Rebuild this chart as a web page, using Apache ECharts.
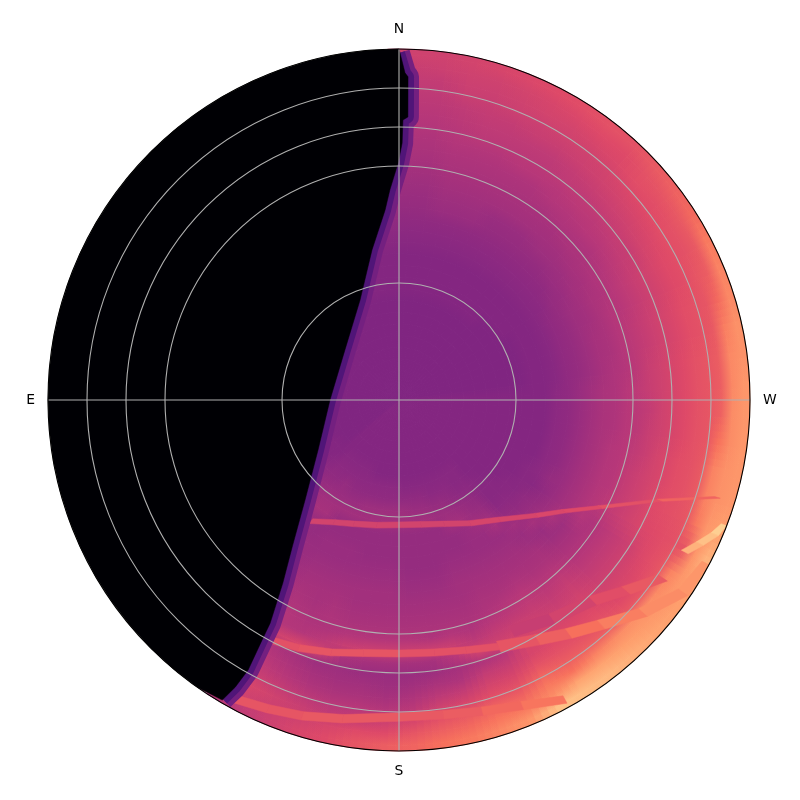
<!DOCTYPE html>
<html>
<head>
<meta charset="utf-8">
<style>html,body{margin:0;background:#fff}#chart{width:800px;height:800px}</style>
<script src="https://cdn.jsdelivr.net/npm/echarts@6/dist/echarts.min.js"></script>
</head>
<body>
<div id="chart"></div>
<script>
// sky brightness, scale 0-100, one row per 5 deg of azimuth, one value per 3 deg of zenith
const az000 = [37,37,37,37,37,37,37,37,37,38,38,38,38,39,40,41,42,43,44,45,46,47,48,49,50,51,52,53,54,56];
const az005 = [37,37,37,37,37,37,37,37,37,38,38,38,38,39,40,41,42,43,44,45,46,47,48,49,50,51,52,53,55,56];
const az010 = [37,37,37,37,37,37,37,37,37,38,38,38,38,39,40,41,43,44,45,46,47,48,49,50,51,52,54,55,56,57];
const az015 = [37,37,37,37,37,37,37,37,37,38,38,38,38,39,40,41,43,44,45,46,47,48,49,51,52,53,54,55,56,58];
const az020 = [37,37,37,37,37,37,37,37,37,38,38,38,38,39,40,41,43,44,45,46,47,48,49,51,52,53,55,56,57,59];
const az025 = [37,37,37,37,37,37,37,37,37,38,38,38,38,39,40,41,42,43,45,46,47,48,50,51,52,54,55,57,58,60];
const az030 = [37,37,37,37,37,37,37,37,37,38,38,38,38,39,40,41,42,43,45,46,47,48,50,51,52,54,56,57,59,61];
const az035 = [37,37,37,37,37,37,37,37,37,38,38,38,38,39,40,41,42,43,45,46,47,49,50,52,53,55,56,58,60,62];
const az040 = [37,37,37,37,37,37,37,37,37,38,38,38,38,39,40,41,42,44,45,46,48,49,51,52,54,56,57,59,60,62];
const az045 = [37,37,37,37,37,37,37,37,37,37,38,38,38,39,40,41,42,44,45,47,48,50,51,53,55,57,59,61,62,64];
const az050 = [37,37,37,37,37,37,37,37,37,37,38,38,38,39,40,41,43,44,46,47,48,50,52,54,56,58,60,61,63,66];
const az055 = [37,37,37,37,37,37,37,37,37,37,38,38,38,39,40,42,43,45,46,48,49,51,53,54,57,59,61,62,64,68];
const az060 = [37,37,37,37,37,37,37,37,37,37,37,38,38,39,41,42,44,45,47,48,50,52,54,56,58,60,61,62,64,72];
const az065 = [37,37,37,37,37,37,37,37,37,37,37,38,38,39,41,42,44,45,47,49,50,52,54,56,58,60,61,63,65,74];
const az070 = [37,37,37,37,37,37,37,37,37,37,37,38,38,39,41,42,44,46,47,49,51,53,55,57,59,61,62,63,68,75];
const az075 = [37,37,37,37,37,37,37,37,37,37,37,38,38,39,41,42,44,46,47,49,51,53,55,57,59,61,62,64,73,77];
const az080 = [37,37,37,37,37,37,37,37,37,37,37,38,38,39,41,42,44,46,48,49,51,54,56,58,60,62,63,65,75,77];
const az085 = [38,38,38,38,38,38,38,38,38,38,38,38,38,40,41,43,45,47,48,50,52,54,56,58,60,62,63,65,75,78];
const az090 = [38,38,38,38,38,38,38,38,38,38,38,38,38,40,41,43,45,47,48,50,51,53,56,58,60,62,63,66,76,78];
const az095 = [38,38,38,38,38,38,38,38,38,38,38,38,38,40,41,43,45,47,48,50,51,54,56,58,60,62,63,70,76,78];
const az100 = [38,38,38,38,38,38,38,38,38,38,38,38,38,40,41,43,45,47,49,50,52,54,57,59,61,62,64,74,77,78];
const az105 = [38,38,38,38,38,38,38,38,38,38,38,38,38,40,41,43,45,47,49,50,53,55,57,59,61,62,64,74,77,78];
const az110 = [38,38,38,38,38,38,38,38,38,38,38,38,38,40,41,43,45,47,49,50,53,55,57,60,61,62,63,72,78,80];
const az115 = [38,38,38,38,38,38,38,38,38,38,38,38,39,40,42,43,45,47,49,51,53,55,57,59,60,61,62,63,78,84];
const az120 = [38,38,38,38,38,38,38,38,38,38,38,38,39,39,41,43,45,47,49,48,50,52,54,56,59,61,63,74,78,80];
const az125 = [38,38,38,38,38,38,38,38,38,38,38,39,39,41,42,44,47,44,46,48,50,52,54,56,58,60,63,76,78,80];
const az130 = [38,38,38,38,38,38,38,38,38,38,39,39,40,41,43,46,43,44,46,48,50,52,54,56,58,60,63,77,79,81];
const az135 = [38,38,38,38,38,38,38,38,38,39,39,39,40,42,45,43,44,46,47,49,52,54,56,58,60,62,65,76,80,83];
const az140 = [38,38,38,38,38,38,38,39,39,40,41,42,44,46,43,44,45,46,47,49,51,53,55,58,60,62,65,74,81,85];
const az145 = [38,38,38,38,38,38,38,39,39,40,42,43,45,43,43,44,45,46,48,50,52,54,56,58,60,62,65,70,81,86];
const az150 = [38,38,38,38,38,38,38,39,40,41,43,45,43,43,43,44,45,46,47,49,51,54,57,58,58,62,67,72,76,87];
const az155 = [38,38,38,38,38,38,38,39,40,42,44,45,42,42,43,44,45,46,47,48,50,53,56,50,54,58,62,67,72,78];
const az160 = [38,38,38,38,38,38,38,39,40,42,44,42,42,42,43,44,45,45,46,47,48,51,57,48,53,57,61,67,71,75];
const az165 = [38,38,38,38,38,38,38,39,41,43,45,42,42,42,42,43,44,45,46,47,49,54,50,46,48,53,58,64,68,72];
const az170 = [38,38,38,38,38,38,38,39,41,43,45,42,42,42,42,43,44,45,46,47,48,55,46,44,47,51,56,62,66,70];
const az175 = [38,38,38,38,38,38,38,39,41,44,45,42,42,42,42,43,44,45,46,47,49,55,46,43,45,48,51,58,63,67];
const az180 = [38,38,38,38,38,38,38,40,41,44,45,42,42,42,43,44,45,45,46,47,49,55,46,43,44,46,49,55,60,65];
const az185 = [38,38,38,38,38,38,38,40,41,44,45,42,42,42,43,44,45,45,46,47,49,55,46,43,45,47,50,53,60,63];
const az190 = [38,38,38,38,38,38,38,40,41,44,45,42,42,42,43,44,45,45,46,47,49,54,47,44,45,47,50,52,58,60];
const az195 = [38,38,38,38,38,38,38,40,41,44,45,42,42,43,43,44,45,46,47,48,48,51,56,44,46,48,51,54,56,58];
const az200 = [38,38,38,38,38,38,39,40,41,43,45,42,42,43,43,44,45,46,46,47,48,49,58,46,48,50,53,56,55,55];
const az205 = [38,38,38,38,38,38,39,40,41,43,45,42,42,43,43,44,45,46,47,48,49,49,56,48,50,52,55,58,56,52];
const az210 = [38,38,38,38,38,38,39,40,42,43,45,46,42,42,43,43,44,45,46,47,48,49,50,50,50,50,52,52,50,50];
const az215 = [38,38,38,38,38,38,39,40,41,43,45,46,43,42,42,43,43,44,44,45];
const az220 = [38,38,38,38,38,38,39,40,41,42,44,44,42,42,42];
const az225 = [38,38,38,38,38,38,38,39,40,41,43,43,43];
const az230 = [37,37,37,37,37,37,38,38,39,40,41,42];
const az235 = [37,37,37,37,37,37,38,38,39,40,41];
const az240 = [37,37,37,37,37,37,37,38,38,39];
const az245 = [37,37,37,37,37,37,37,37,38];
const eastCore = [37,37,37,37,37,37,37,37];
const az330 = [37,37,37,37,37,37,37,37,37,37];
const az335 = [37,37,37,37,37,37,37,37,37,37,37];
const az340 = [37,37,37,37,37,37,37,37,37,38,38,38,38];
const az345 = [37,37,37,37,37,37,37,37,37,38,38,38,38,39,39];
const az350 = [37,37,37,37,37,37,37,37,37,38,38,38,38,39,40,41,42];
const az355 = [37,37,37,37,37,37,37,37,37,38,38,38,38,39,40,41,42,43,44,45,46,47];

const azimuthRows = [
  az000,az005,az010,az015,az020,az025,az030,az035,az040,az045,az050,az055,
  az060,az065,az070,az075,az080,az085,az090,az095,az100,az105,az110,az115,
  az120,az125,az130,az135,az140,az145,az150,az155,az160,az165,az170,az175,
  az180,az185,az190,az195,az200,az205,az210,az215,az220,az225,az230,az235,
  az240,az245,eastCore,eastCore,eastCore,eastCore,eastCore,eastCore,eastCore,eastCore,eastCore,eastCore,
  eastCore,eastCore,eastCore,eastCore,eastCore,eastCore,az330,az335,az340,az345,az350,az355
];

// thin bright bands
const bandOneAz = [216,208,200,190,180,170,160,150,140,130,124,118,111,107];
const bandOneZen = [38.4,35.5,33.8,32.6,32,32.4,33.8,36.5,40,46,51,58.5,71.7,85.4];
const bandOneVal = [57,57,57,57,57,57,57,58,58,59,60,62,67,80];
const bandTwoAz = [209,202,195,188,180,172,165,158];
const bandTwoZen = [70,68.6,67,65.5,65,65.4,66.4,68.2];
const bandTwoVal = [62,63,63,63,62,62,62,63];
const bandTwoEastAz = [158,150,144,138,131,124,118];
const bandTwoEastZen = [68.2,71,74,77.5,83,88,89.5];
const bandTwoEastVal = [63,66,70,73,76,78,78];
const faintBandAz = [154,145,136,130,124];
const faintBandZen = [66,68.5,71.5,76,81.5];
const faintBandVal = [54,57,61,64,67];
const bandThreeAz = [209,203,197,190,180,172,165,158,151];
const bandThreeZen = [87.5,86,84.7,83,81.3,81.5,82.6,84.5,87.8];
const bandThreeVal = [63,63,64,64,64,65,68,71,74];
const wedgeAz = [118,115.5,113,111];
const wedgeZen = [83,85.5,88,89.5];
const wedgeVal = [84,87,90,90];

// edge of the dark side
const terminatorAz = [0,1.05,1.6,1.8,0.8,0.7,359.8,359,357.5,355.8,349.8,338.7,312.8,270,238.3,223.2,216,212.4,210,209.7,209.2,209.7,210.5];
const terminatorZen = [90,83.9,82.9,72.6,71.8,65.9,60.8,58.2,53.9,48.8,39.1,27.5,18.9,17.7,24.4,35.2,46.6,55.6,66.1,70.9,79.3,84.8,89.3];

const ringZen = [30,60,70,80];
const spokeAz = [0,90,180,270];
const compassLabels = {0:'N',90:'W',180:'S',270:'E'};
const magma = ['#000004','#140e36','#3b0f70','#641a80','#8c2981','#b73779','#de4968','#f7705c','#fe9f6d','#fecf92','#fcfdbf'];

function magmaColor(v) {
  return echarts.color.lerp(v / 100, magma);
}

// one record per cell, each cell runs from its own value to the next one out
function cellData() {
  let data = [];
  azimuthRows.forEach((row, r) => {
    data.push([-1.5, r * 5, row[0], row[0]]);
    row.forEach((val, c) => {
      const next = c + 1 < row.length ? row[c + 1] : val;
      data.push([c * 3 + 1.5, r * 5, val, next]);
    });
  });
  return data;
}

function ribbonData(az, zen, val, halfWidth) {
  let data = [];
  for (let i = 0; i < az.length - 1; i++) {
    data.push([az[i], zen[i], val[i], az[i + 1], zen[i + 1], halfWidth]);
  }
  return data;
}

function cellRenderer(shift, opacity) {
  return function(params, api) {
    const cx = params.coordSys.cx, cy = params.coordSys.cy;
    const a = api.coord([Math.max(api.value(0), 0), api.value(1) + shift]);
    const b = api.coord([Math.min(api.value(0) + 3, 90), api.value(1) + 5 + shift]);
    const fill = {
      type: 'radial', x: cx, y: cy, r: b[2], global: true,
      colorStops: [
        {offset: a[2] / b[2], color: magmaColor(api.value(2))},
        {offset: 1, color: magmaColor(api.value(3))}
      ]
    };
    let style = {fill, opacity};
    if (opacity === 1) {
      style.stroke = fill;
      style.lineWidth = 0.8;
    }
    return {
      type: 'sector',
      shape: {cx, cy, r0: a[2], r: b[2], startAngle: -a[3], endAngle: -b[3], clockwise: true},
      style
    };
  };
}

function renderRibbon(params, api) {
  const w = api.value(5);
  const az0 = api.value(0), zen0 = api.value(1), az1 = api.value(3), zen1 = api.value(4);
  const pts = [
    api.coord([Math.min(zen0 + w, 90), az0]), api.coord([Math.min(zen1 + w, 90), az1]),
    api.coord([zen1 - w, az1]), api.coord([zen0 - w, az0])
  ].map(p => [p[0], p[1]]);
  const color = magmaColor(api.value(2));
  return {type: 'polygon', shape: {points: pts}, style: {fill: color, stroke: color, lineWidth: 0.5}};
}

function terminatorPoints(api, maxZen) {
  return terminatorAz.map((az, i) => {
    const p = api.coord([Math.min(terminatorZen[i], maxZen), az]);
    return [p[0], p[1]];
  });
}

function renderStrip(params, api) {
  return {
    type: 'polyline',
    shape: {points: terminatorPoints(api, 89)},
    style: {fill: null, stroke: magmaColor(api.value(0)), lineWidth: api.value(1), lineJoin: 'round'}
  };
}

function renderDarkSide(params, api) {
  let pts = terminatorPoints(api, 90);
  for (let az = 215; az <= 360; az += 5) {
    const p = api.coord([90, az]);
    pts.push([p[0], p[1]]);
  }
  return {type: 'polygon', shape: {points: pts}, style: {fill: '#000004', stroke: '#000004', lineWidth: 0.5}};
}

function renderRing(params, api) {
  const p = api.coord([api.value(0), 0]);
  return {
    type: 'circle',
    shape: {cx: params.coordSys.cx, cy: params.coordSys.cy, r: p[2]},
    style: {fill: null, stroke: api.value(1) ? '#000000' : '#b0b0b0', lineWidth: 1.1}
  };
}

function renderSpoke(params, api) {
  const p = api.coord([90, api.value(0)]);
  return {
    type: 'line',
    shape: {x1: params.coordSys.cx, y1: params.coordSys.cy, x2: p[0], y2: p[1]},
    style: {stroke: '#b0b0b0', lineWidth: 1.1}
  };
}

function customSeries(renderItem, data) {
  return {type: 'custom', coordinateSystem: 'polar', renderItem, data, silent: true, animation: false, progressive: 0};
}

const cells = cellData();
const chart = echarts.init(document.getElementById('chart'), null, {renderer: 'canvas'});
chart.setOption({
  animation: false,
  polar: {center: [399, 400], radius: 351},
  radiusAxis: {type: 'value', min: 0, max: 90, axisLine: {show: false}, axisTick: {show: false}, axisLabel: {show: false}, splitLine: {show: false}},
  angleAxis: {
    type: 'value', min: 0, max: 360, interval: 90, startAngle: 90, clockwise: true,
    axisLine: {show: false}, axisTick: {show: false}, splitLine: {show: false},
    axisLabel: {
      margin: 13, color: '#000', fontFamily: 'DejaVu Sans', fontSize: 13.9,
      formatter: v => compassLabels[v] || ''
    }
  },
  series: [
    // same cells four times at small azimuth shifts, so the 5 deg rows blend into each other
    customSeries(cellRenderer(-1.875, 1), cells),
    customSeries(cellRenderer(-0.625, 1 / 2), cells),
    customSeries(cellRenderer(0.625, 1 / 3), cells),
    customSeries(cellRenderer(1.875, 1 / 4), cells),
    customSeries(renderRibbon, ribbonData(faintBandAz, faintBandZen, faintBandVal, 1.5)),
    customSeries(renderRibbon, ribbonData(bandOneAz, bandOneZen, bandOneVal, 0.75)),
    customSeries(renderRibbon, ribbonData(bandTwoAz, bandTwoZen, bandTwoVal, 0.9)),
    customSeries(renderRibbon, ribbonData(bandTwoEastAz, bandTwoEastZen, bandTwoEastVal, 1.5)),
    customSeries(renderRibbon, ribbonData(bandThreeAz, bandThreeZen, bandThreeVal, 1.1)),
    customSeries(renderRibbon, ribbonData(wedgeAz, wedgeZen, wedgeVal, 1)),
    customSeries(renderStrip, [[34, 22]]),
    customSeries(renderStrip, [[25, 12]]),
    customSeries(renderDarkSide, [[0]]),
    customSeries(renderSpoke, spokeAz.map(a => [a])),
    customSeries(renderRing, ringZen.map(z => [z, 0]).concat([[90, 1]]))
  ]
});
</script>
</body>
</html>
